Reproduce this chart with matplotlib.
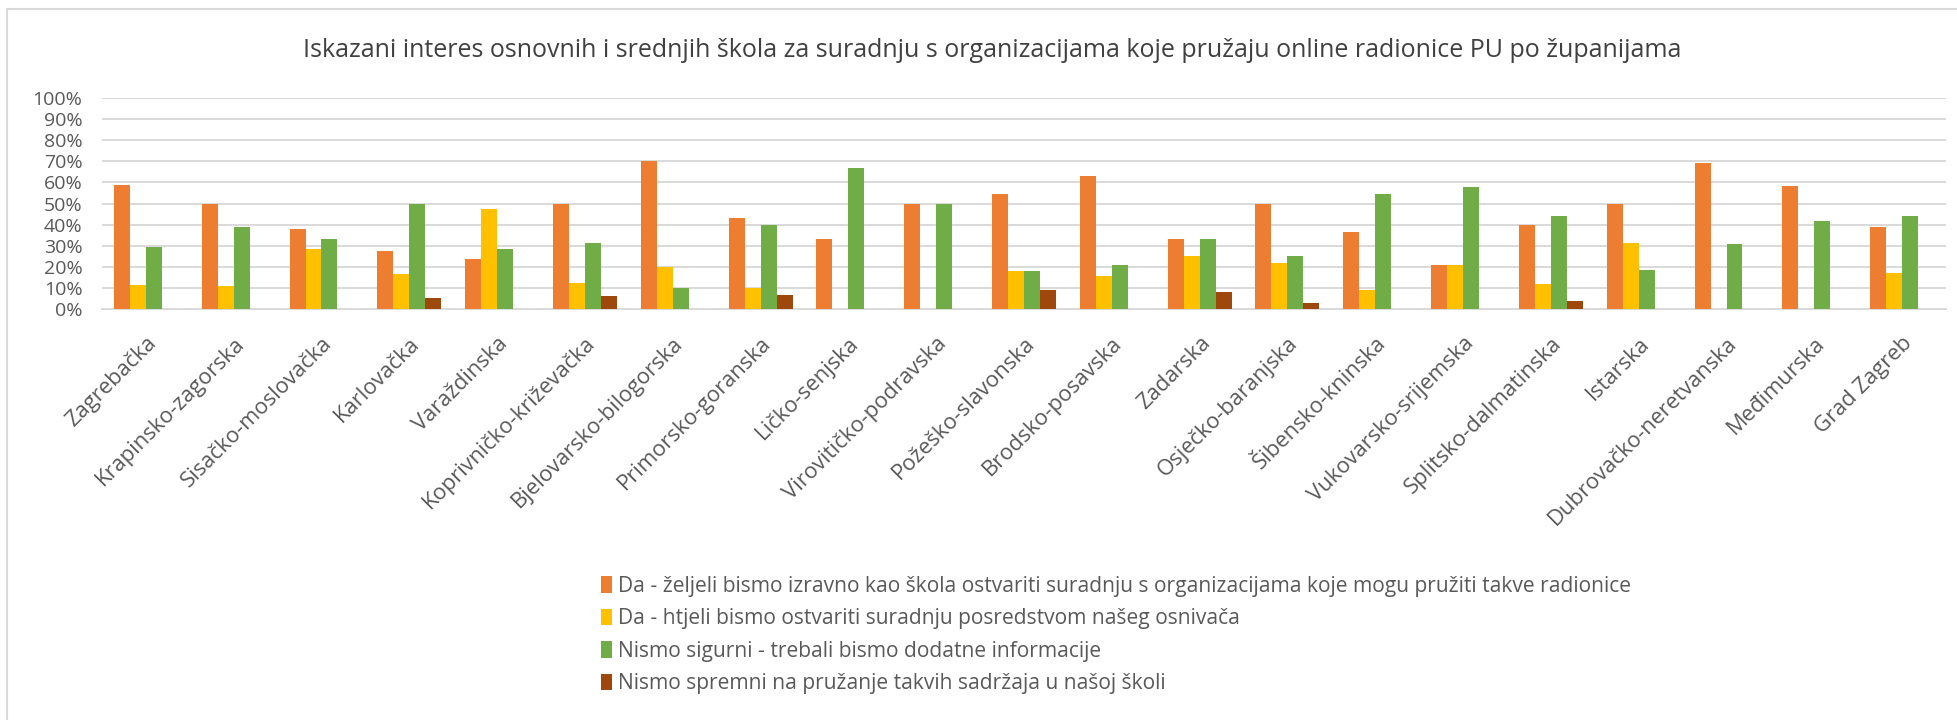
import numpy as np
import matplotlib.pyplot as plt
from matplotlib.lines import Line2D
from matplotlib.ticker import PercentFormatter

plt.rcParams['font.family'] = ['Open Sans', 'DejaVu Sans']

zupanije = ['Zagrebačka', 'Krapinsko-zagorska', 'Sisačko-moslovačka', 'Karlovačka',
            'Varaždinska', 'Koprivničko-križevačka', 'Bjelovarsko-bilogorska',
            'Primorsko-goranska', 'Ličko-senjska', 'Virovitičko-podravska',
            'Požeško-slavonska', 'Brodsko-posavska', 'Zadarska', 'Osječko-baranjska',
            'Šibensko-kninska', 'Vukovarsko-srijemska', 'Splitsko-dalmatinska',
            'Istarska', 'Dubrovačko-neretvanska', 'Međimurska', 'Grad Zagreb']

# udjeli odgovora (%) po županijama
izravno = [58.6, 50.0, 38.0, 27.6, 23.8, 50.0, 69.9, 43.3, 33.3, 50.0, 54.5,
           63.0, 33.3, 50.0, 36.4, 20.9, 40.0, 50.0, 69.1, 58.3, 39.1]
osnivac = [11.5, 11.0, 28.5, 16.7, 47.4, 12.4, 20.0, 10.0, 0, 0, 18.1,
           15.7, 25.0, 21.7, 9.1, 20.9, 12.0, 31.2, 0, 0, 17.0]
nisu_sigurni = [29.3, 38.9, 33.3, 50.0, 28.3, 31.2, 10.0, 40.0, 66.7, 50.0, 18.1,
                20.9, 33.3, 25.0, 54.5, 57.8, 44.0, 18.6, 30.7, 41.7, 44.0]
nisu_spremni = [0, 0, 0, 5.4, 0, 6.3, 0, 6.6, 0, 0, 9.1,
                0, 8.3, 3.1, 0, 0, 3.9, 0, 0, 0, 0]

serije = [
    ('Da - željeli bismo izravno kao škola ostvariti suradnju s organizacijama koje mogu pružiti takve radionice', izravno, '#ED7D31'),
    ('Da - htjeli bismo ostvariti suradnju posredstvom našeg osnivača', osnivac, '#FFC000'),
    ('Nismo sigurni - trebali bismo dodatne informacije', nisu_sigurni, '#70AD47'),
    ('Nismo spremni na pružanje takvih sadržaja u našoj školi', nisu_spremni, '#9E480E'),
]

siva = '#595959'
fig = plt.figure(figsize=(19.57, 7.2), dpi=100)
ax = fig.add_axes([0.0521, 0.5704, 0.9423, 0.2939])

x = np.arange(len(zupanije))
w = 0.182
for i, (naziv, vrijednosti, boja) in enumerate(serije):
    ax.bar(x + (i - 1.5) * w, vrijednosti, width=w, color=boja, label=naziv, zorder=3)

ax.set_xlim(-0.5, len(zupanije) - 0.5)
ax.set_ylim(0, 100)
ax.set_yticks(np.arange(0, 101, 10))
ax.yaxis.set_major_formatter(PercentFormatter(decimals=0))
ax.grid(axis='y', color='#D9D9D9', linewidth=1.4, zorder=0)
for s in ['top', 'right', 'left']:
    ax.spines[s].set_visible(False)
ax.spines['bottom'].set_color('#D9D9D9')
ax.spines['bottom'].set_linewidth(1.4)
ax.tick_params(axis='both', length=0, labelsize=14, labelcolor=siva)
ax.tick_params(axis='y', pad=14)
ax.set_xticks(x)
ax.set_xticklabels(zupanije, rotation=45, ha='right', va='top', rotation_mode='anchor',
                   fontsize=15.8)
ax.tick_params(axis='x', pad=17)

fig.text(0.507, 0.93, 'Iskazani interes osnovnih i srednjih škola za suradnju s organizacijama koje pružaju online radionice PU po županijama',
         ha='center', va='center', fontsize=18, color='#404040')

fig.legend(loc='upper left', bbox_to_anchor=(0.303, 0.212), frameon=False,
           fontsize=15.1, labelcolor=siva, handlelength=0.5, handleheight=0.85,
           handletextpad=0.3, labelspacing=0.55, borderaxespad=0)

# okvir grafikona
fig.add_artist(Line2D([7 / 1957, 1], [1 - 9 / 720, 1 - 9 / 720], color='#D9D9D9', linewidth=1.5))
fig.add_artist(Line2D([7 / 1957, 7 / 1957], [0, 1 - 9 / 720], color='#D9D9D9', linewidth=1.5))

fig.savefig('out.png', dpi=100, facecolor='white')
